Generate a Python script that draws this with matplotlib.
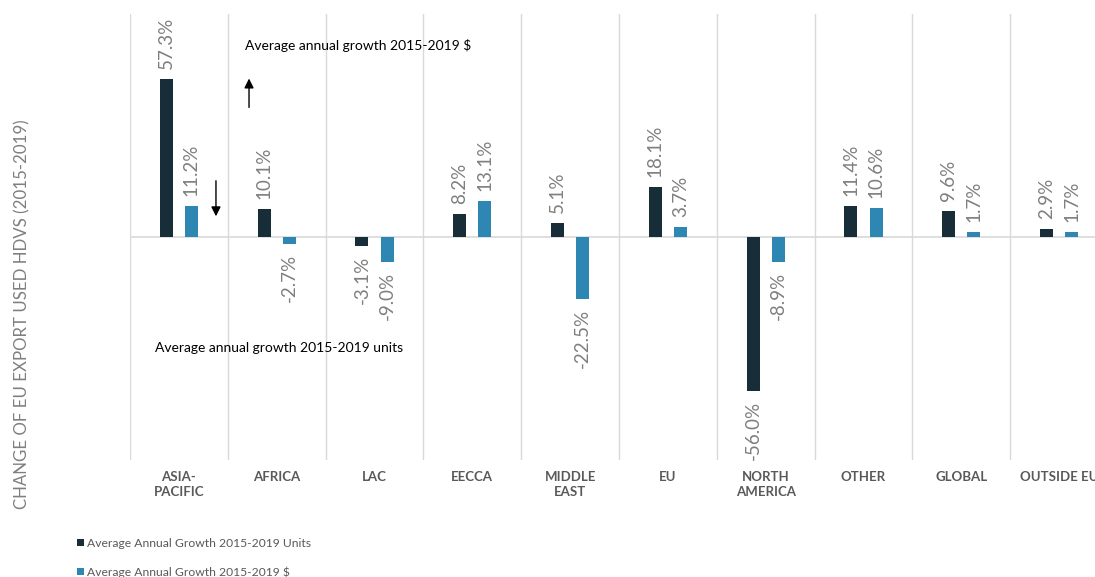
import matplotlib
import matplotlib.pyplot as plt
import numpy as np

matplotlib.use('Agg')

regions = ["ASIA-\nPACIFIC", "AFRICA", "LAC", "EECCA", "MIDDLE\nEAST", "EU",
           "NORTH\nAMERICA", "OTHER", "GLOBAL", "OUTSIDE EU"]
growth_units = [57.3, 10.1, -3.1, 8.2, 5.1, 18.1, -56.0, 11.4, 9.6, 2.9]
growth_usd = [11.2, -2.7, -9.0, 13.1, -22.5, 3.7, -8.9, 10.6, 1.7, 1.7]
series_names = ["Average Annual Growth 2015-2019 Units",
                "Average Annual Growth 2015-2019 $"]

dark = "#172d37"
blue = "#2e86b3"
label_grey = "#7f7f7f"
text_grey = "#595959"
font = "Lato"


def add_value_labels(ax, bars, values):
    for bar, v in zip(bars, values):
        x = bar.get_x() + bar.get_width() / 2
        offset = 3.6 if v >= 0 else -3.6
        ax.text(x, v + offset, f"{v:.1f}%", rotation=90, ha="center",
                va="bottom" if v >= 0 else "top", color=label_grey,
                fontsize=13.5, family=font)


fig = plt.figure(figsize=(10.95, 5.77), dpi=100)
# the plot area runs past the right edge, so the last column is clipped
ax = fig.add_axes([130 / 1095, 1 - 460.3 / 577, 978 / 1095, 446.6 / 577])

x = np.arange(len(regions))
w = 0.133
off = 0.128
bars_u = ax.bar(x - off, growth_units, w, color=dark, label=series_names[0], zorder=3)
bars_d = ax.bar(x + off, growth_usd, w, color=blue, label=series_names[1], zorder=3)
add_value_labels(ax, bars_u, growth_units)
add_value_labels(ax, bars_d, growth_usd)

ax.set_xlim(-0.5, len(regions) - 0.5)
ax.set_ylim(-81, 81)

# column separators and zero line
for b in np.arange(-0.5, len(regions), 1.0):
    ax.axvline(b, color="#d9d9d9", lw=1, zorder=1)
ax.axhline(0, color="#d9d9d9", lw=1.2, zorder=2)

for s in ax.spines.values():
    s.set_visible(False)
ax.set_yticks([])
ax.set_xticks(x)
ax.set_xticklabels(regions, fontsize=9.5, fontweight="bold", color=text_grey,
                   family=font, linespacing=1.3)
ax.tick_params(axis="x", length=0, pad=8)
for t in ax.get_xticklabels():
    t.set_verticalalignment("top")

fig.text(22 / 1095, 1 - 314 / 577, "CHANGE OF EU EXPORT USED HDVS (2015-2019)",
         rotation=90, ha="center", va="center", color=label_grey,
         fontsize=12.2, family=font)

# arrow annotations
ax.text(0.676, 69.6, "Average annual growth 2015-2019 $", fontsize=10,
        va="center", family=font, color="black")
ax.annotate("", xy=(0.717, 58.5), xytext=(0.717, 46),
            arrowprops=dict(arrowstyle="-|>", color="black", lw=1, mutation_scale=14))
ax.text(-0.244, -40.3, "Average annual growth 2015-2019 units", fontsize=10,
        va="center", family=font, color="black")
ax.annotate("", xy=(0.379, 6.5), xytext=(0.379, 21.4),
            arrowprops=dict(arrowstyle="-|>", color="black", lw=1, mutation_scale=14))

leg = fig.legend(handles=[bars_u, bars_d], loc="upper left",
                 bbox_to_anchor=(66 / 1095, 1 - 527 / 577), frameon=False,
                 handlelength=0.55, handleheight=0.55, handletextpad=0.3,
                 labelspacing=1.45, prop={"family": font, "size": 8.7})
for t in leg.get_texts():
    t.set_color(text_grey)

fig.savefig("out.png", dpi=100)
